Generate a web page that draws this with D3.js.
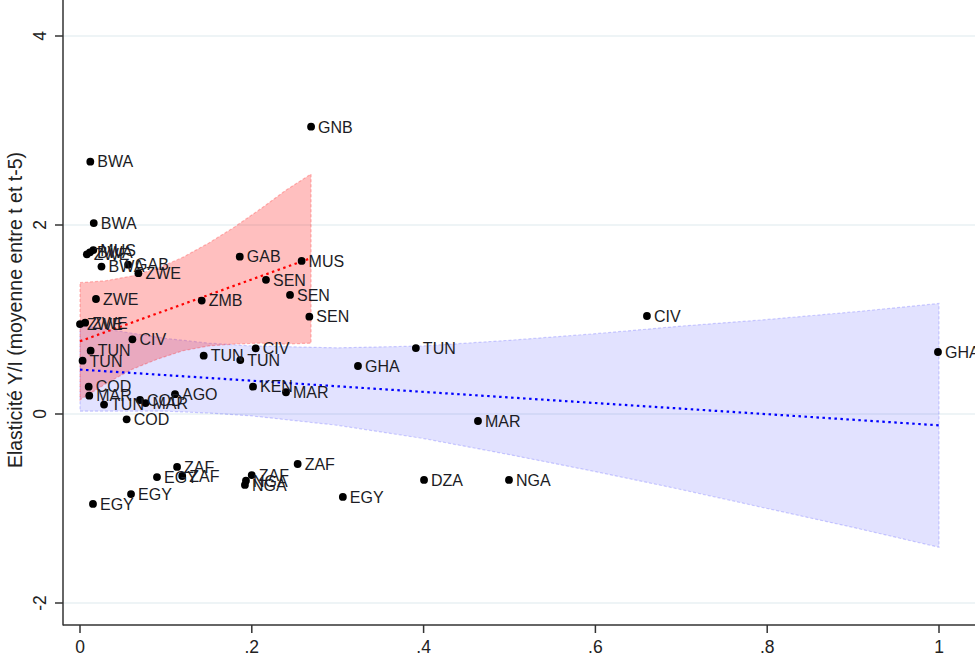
<!DOCTYPE html>
<html>
<head>
<meta charset="utf-8">
<script src="https://cdn.jsdelivr.net/npm/d3@7"></script>
<style>
  html, body { margin: 0; padding: 0; background: #fff; }
  svg { display: block; font-family: "Liberation Sans", Arial, sans-serif; }
</style>
</head>
<body>
<svg id="chart" width="975" height="661"></svg>
<script>
// Country observations: share (x) and elasticity Y/I (y)
const countries = ["GNB","BWA","BWA","MUS","BWA","ZWE","BWA","GAB","ZWE","GAB","MUS","SEN","SEN","SEN","ZMB","ZWE",
  "ZWE","ZWE","CIV","TUN","TUN","TUN","TUN","CIV","GHA","TUN","CIV","GHA","COD","MAR","KEN","MAR","AGO","TUN",
  "COD","MAR","COD","MAR","ZAF","EGY","ZAF","ZAF","NGA","NGA","ZAF","EGY","EGY","EGY","DZA","NGA"];
const shareX = [0.269,0.012,0.016,0.0155,0.0115,0.008,0.025,0.056,0.068,0.186,0.258,0.2165,0.2445,0.267,0.1417,0.0186,
  0.0,0.006,0.061,0.0124,0.003,0.144,0.1866,0.2045,0.3236,0.391,0.660,0.9988,0.0101,0.0108,0.2014,0.2398,0.1106,0.028,
  0.0698,0.0763,0.0543,0.4633,0.113,0.0896,0.119,0.1999,0.1932,0.192,0.2534,0.0594,0.0151,0.306,0.4005,0.4994];
const elastY = [3.04,2.67,2.02,1.735,1.71,1.69,1.56,1.58,1.49,1.665,1.62,1.42,1.26,1.03,1.20,1.217,
  0.952,0.966,0.79,0.67,0.564,0.617,0.571,0.695,0.508,0.698,1.037,0.656,0.289,0.194,0.289,0.23,0.21,0.10,
  0.148,0.116,-0.056,-0.074,-0.56,-0.667,-0.656,-0.646,-0.706,-0.751,-0.529,-0.847,-0.952,-0.878,-0.698,-0.698];

// Linear fit and 95% band, full sample (blue)
const blueBandX  = [0, 0.05, 0.1, 0.15, 0.2, 0.3, 0.4, 0.5, 0.6, 0.7, 0.8, 0.9, 1.0];
const blueBandHi = [0.94, 0.87, 0.80, 0.75, 0.72, 0.70, 0.72, 0.78, 0.85, 0.93, 1.00, 1.08, 1.17];
const blueBandLo = [0.03, 0.03, 0.03, 0.01, -0.02, -0.12, -0.26, -0.43, -0.61, -0.80, -1.00, -1.20, -1.41];
const blueFitX = [0, 1.0];
const blueFitY = [0.47, -0.12];

// Linear fit and 95% band, sub-sample (red)
const redBandX  = [0, 0.03, 0.06, 0.09, 0.12, 0.15, 0.18, 0.21, 0.24, 0.269];
const redBandHi = [1.39, 1.41, 1.46, 1.54, 1.66, 1.81, 1.98, 2.17, 2.37, 2.54];
const redBandLo = [0.15, 0.32, 0.47, 0.58, 0.67, 0.72, 0.74, 0.75, 0.74, 0.75];
const redFitX = [0, 0.269];
const redFitY = [0.77, 1.65];

// Axis ticks
const xTicks = [0, 0.2, 0.4, 0.6, 0.8, 1];
const xTickLabels = ["0", ".2", ".4", ".6", ".8", "1"];
const yTicks = [-2, 0, 2, 4];
const yTickLabels = ["-2", "0", "2", "4"];
const yTitle = "Elasticité Y/I (moyenne entre t et t-5)";

const svg = d3.select("#chart");
const W = 975, H = 661;
const axisLeft = 63, axisBottom = 625;

const x = d3.scaleLinear().domain([0, 1]).range([80, 939]);
const y = d3.scaleLinear().domain([-2, 4]).range([603, 36]);

// gridlines
svg.append("g").selectAll("line").data(yTicks).join("line")
  .attr("x1", axisLeft).attr("x2", W)
  .attr("y1", d => y(d)).attr("y2", d => y(d))
  .attr("stroke", "#e9f1f3").attr("stroke-width", 1.6);

const area = (xs, lo, hi) => d3.area()
  .x((d, i) => x(xs[i])).y0((d, i) => y(lo[i])).y1((d, i) => y(hi[i]))(xs);
const outline = (xs, lo, hi) => {
  const pts = xs.map((v, i) => [x(v), y(hi[i])])
    .concat(xs.map((v, i) => [x(v), y(lo[i])]).reverse());
  return d3.line()(pts) + "Z";
};

// confidence bands
svg.append("path").attr("d", area(blueBandX, blueBandLo, blueBandHi))
  .attr("fill", "rgba(0,0,255,0.115)");
svg.append("path").attr("d", outline(blueBandX, blueBandLo, blueBandHi))
  .attr("fill", "none").attr("stroke", "rgba(0,0,255,0.18)")
  .attr("stroke-width", 1.2).attr("stroke-dasharray", "3,2");
svg.append("path").attr("d", area(redBandX, redBandLo, redBandHi))
  .attr("fill", "rgba(255,0,0,0.25)");
svg.append("path").attr("d", outline(redBandX, redBandLo, redBandHi))
  .attr("fill", "none").attr("stroke", "rgba(255,0,0,0.25)")
  .attr("stroke-width", 1.2).attr("stroke-dasharray", "3,2");

// fitted lines
const fitLine = (xs, ys) => d3.line().x((d, i) => x(xs[i])).y((d, i) => y(ys[i]))(xs);
svg.append("path").attr("d", fitLine(redFitX, redFitY))
  .attr("fill", "none").attr("stroke", "#ff0000").attr("stroke-width", 2.2)
  .attr("stroke-dasharray", "2.5,3.5");
svg.append("path").attr("d", fitLine(blueFitX, blueFitY))
  .attr("fill", "none").attr("stroke", "#0000ff").attr("stroke-width", 2.2)
  .attr("stroke-dasharray", "2.5,3.5");

// points and labels
const pts = svg.append("g");
pts.selectAll("circle").data(countries).join("circle")
  .attr("cx", (d, i) => x(shareX[i])).attr("cy", (d, i) => y(elastY[i]))
  .attr("r", 3.9).attr("fill", "#000");
pts.selectAll("text").data(countries).join("text")
  .attr("x", (d, i) => x(shareX[i]) + 7).attr("y", (d, i) => y(elastY[i]) + 5.8)
  .attr("font-size", 16).attr("fill", "#1c1c24").text(d => d);

// axes
const ax = svg.append("g").attr("stroke", "#333").attr("stroke-width", 1.5);
ax.append("line").attr("x1", axisLeft).attr("x2", axisLeft).attr("y1", 0).attr("y2", axisBottom + 0.5);
ax.append("line").attr("x1", axisLeft).attr("x2", W).attr("y1", axisBottom).attr("y2", axisBottom);
ax.selectAll(".yt").data(yTicks).join("line").attr("class", "yt")
  .attr("x1", axisLeft - 8).attr("x2", axisLeft).attr("y1", d => y(d)).attr("y2", d => y(d));
ax.selectAll(".xt").data(xTicks).join("line").attr("class", "xt")
  .attr("x1", d => x(d)).attr("x2", d => x(d)).attr("y1", axisBottom).attr("y2", axisBottom + 8);

svg.append("g").selectAll("text").data(xTicks).join("text")
  .attr("x", d => x(d)).attr("y", 653).attr("text-anchor", "middle")
  .attr("font-size", 17.5).attr("fill", "#222").text((d, i) => xTickLabels[i]);

svg.append("g").selectAll("text").data(yTicks).join("text")
  .attr("transform", d => `translate(46,${y(d)}) rotate(-90)`)
  .attr("text-anchor", "middle").attr("font-size", 17.5).attr("fill", "#222")
  .text((d, i) => yTickLabels[i]);

svg.append("text")
  .attr("transform", "translate(22,310) rotate(-90)")
  .attr("text-anchor", "middle").attr("font-size", 19.5).attr("fill", "#222")
  .text(yTitle);
</script>
</body>
</html>
